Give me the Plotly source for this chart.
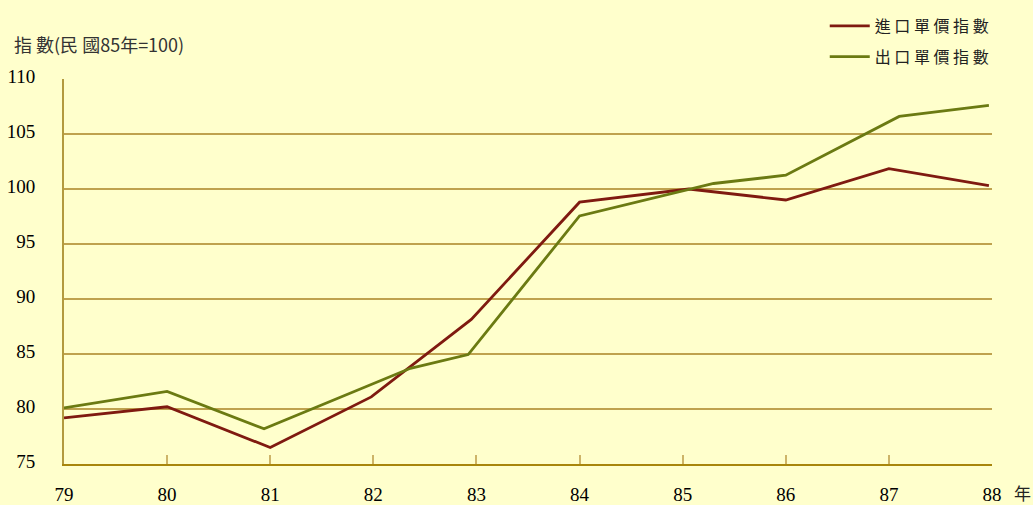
import plotly.graph_objects as go

# ---- data ----
years_ticks = [79, 80, 81, 82, 83, 84, 85, 86, 87, 88]
y_ticks = [75, 80, 85, 90, 95, 100, 105, 110]

import_x = [79, 80, 81, 81.98, 82.95, 84, 85.06, 86, 87, 87.97]
import_y = [79.2, 80.2, 76.5, 81.1, 88.15, 98.8, 100.0, 99.0, 101.85, 100.3]

export_x = [79, 80, 80.94, 82.36, 82.92, 84.0, 85.3, 86, 87.1, 87.97]
export_y = [80.1, 81.6, 78.2, 83.7, 84.95, 97.55, 100.5, 101.25, 106.6, 107.6]

series_names = ["進 口 單 價 指 數", "出 口 單 價 指 數"]
title_text = "指 數(民 國85年=100)"
unit_text = "年"

BG = "#FFFFCC"
RED = "#7F1A10"
GREEN = "#6B7A12"
GRID = "#BFA24E"
AXIS = "#A8860C"

fig = go.Figure()
fig.add_trace(go.Scatter(x=import_x, y=import_y, mode="lines", name=series_names[0],
                         legendgroup="imp", line=dict(color=RED, width=2.8)))
fig.add_trace(go.Scatter(x=export_x, y=export_y, mode="lines", name=series_names[1],
                         legendgroup="exp", line=dict(color=GREEN, width=2.8)))

serif = "Liberation Serif, Times New Roman, serif"
cjk = "Noto Sans CJK TC, sans-serif"

fig.update_layout(
    width=1033, height=505,
    paper_bgcolor=BG, plot_bgcolor=BG,
    margin=dict(l=64, r=41, t=79, b=41, autoexpand=False),
    showlegend=True,
    legend=dict(xref="container", yref="container", x=0.962, xanchor="right",
                y=1 - 9 / 505, yanchor="top",
                bgcolor="rgba(0,0,0,0)", font=dict(family=cjk, size=16, color="#222"),
                tracegroupgap=7, itemwidth=40),
    xaxis=dict(range=[79, 88], tickvals=years_ticks, ticktext=[str(v) for v in years_ticks],
               showgrid=False, zeroline=False, showline=True, linecolor=AXIS, linewidth=2,
               ticks="inside", ticklen=9, tickwidth=2, tickcolor="#CDB468",
               tickfont=dict(family=serif, size=19, color="#000"),
               ticklabelstandoff=12, automargin=False),
    yaxis=dict(range=[75, 110], tickvals=y_ticks, ticktext=[str(v) for v in y_ticks],
               showgrid=True, gridcolor=GRID, gridwidth=1.5, zeroline=False,
               showline=True, linecolor="#B39A3E", linewidth=2, ticks="",
               tickfont=dict(family=serif, size=19, color="#000"),
               ticklabelstandoff=23, ticklabelshift=-3, automargin=False),
    annotations=[
        dict(text=title_text, xref="paper", yref="paper", x=(12 - 64) / 928, y=1 + (79 - 44) / 385,
             xanchor="left", yanchor="middle", showarrow=False,
             font=dict(family=cjk, size=18, color="#333")),
        dict(text=unit_text, xref="paper", yref="paper", x=(1022 - 64) / 928, y=(464 - 493) / 385,
             xanchor="center", yanchor="middle", showarrow=False,
             font=dict(family=cjk, size=17, color="#222")),
    ],
)

fig.write_html("out.html", config={"displayModeBar": False},
               post_script="document.body.style.margin='0';")
